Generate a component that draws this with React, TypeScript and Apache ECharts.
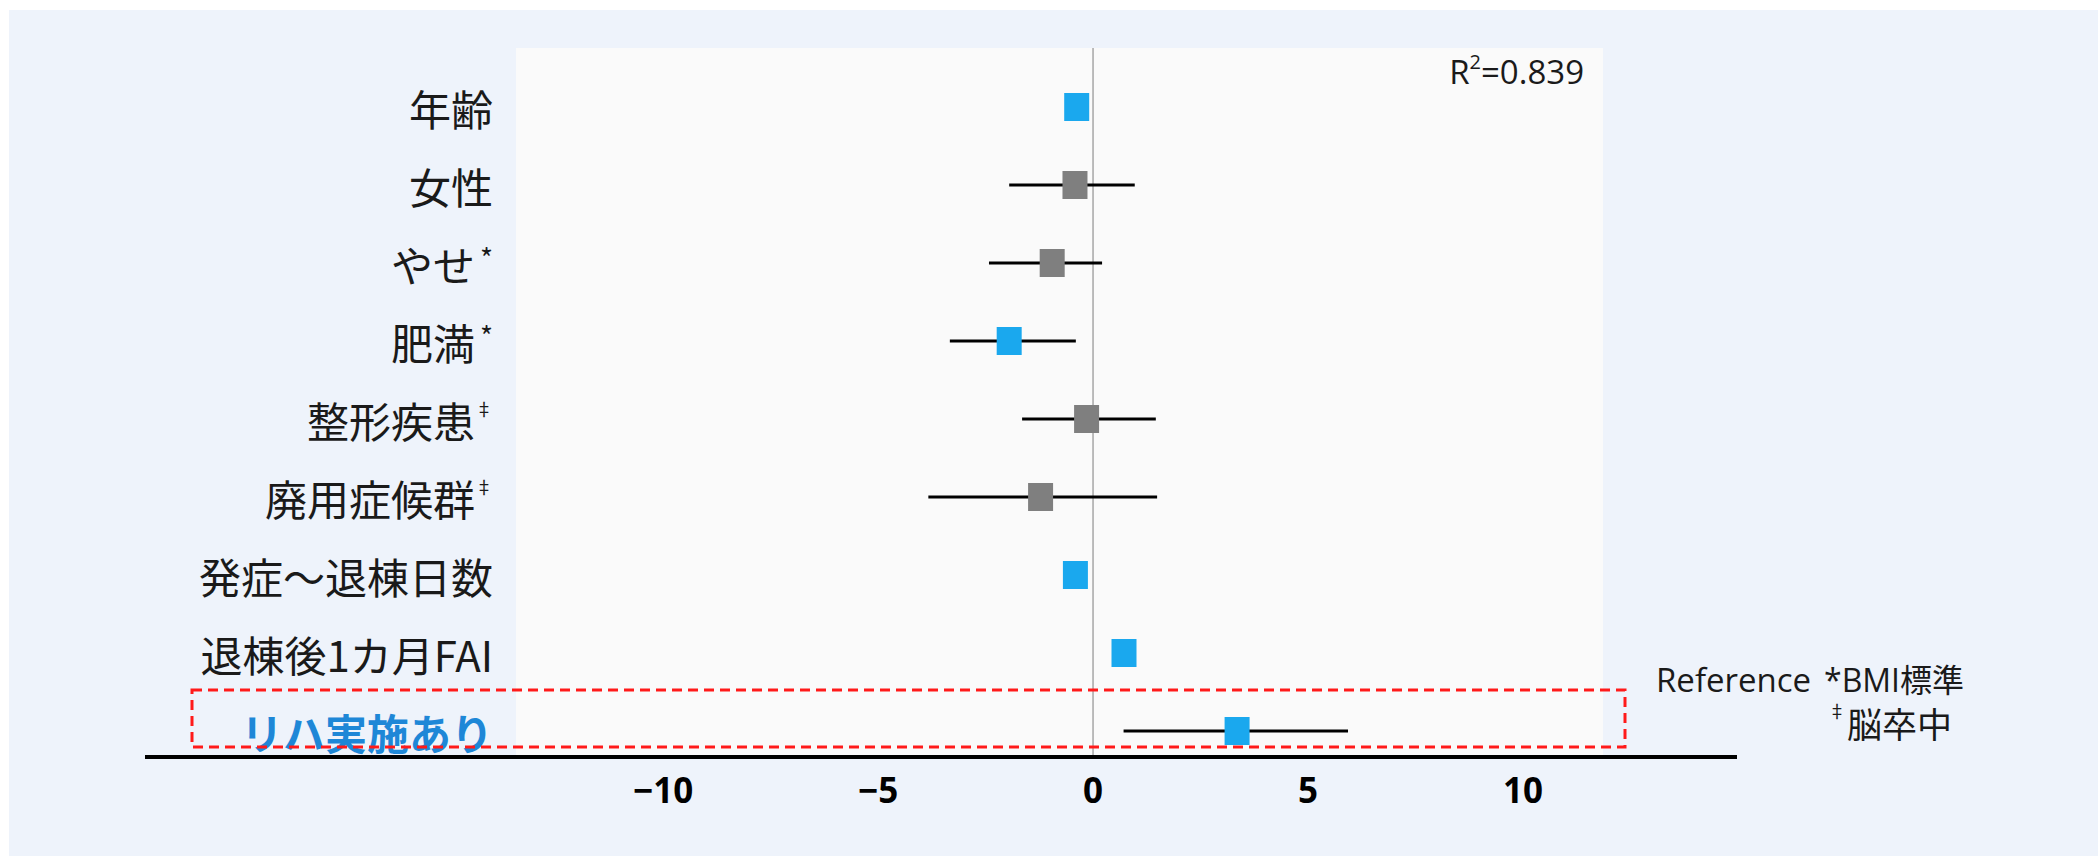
import React, { useEffect, useRef } from "react";
import * as echarts from "echarts";

// ---- data ----
const CATEGORIES = [
  "年齢",
  "女性",
  "やせ",
  "肥満",
  "整形疾患",
  "廃用症候群",
  "発症～退棟日数",
  "退棟後1カ月FAI",
  "リハ実施あり",
];
const NOTE_MARKS = ["", "", "*", "*", "‡", "‡", "", "", ""];
const ESTIMATES = [-0.38, -0.42, -0.95, -1.95, -0.15, -1.22, -0.41, 0.72, 3.35];
const CI_LOW = [null, -1.95, -2.42, -3.33, -1.65, -3.83, null, null, 0.71];
const CI_HIGH = [null, 0.97, 0.21, -0.40, 1.46, 1.49, null, null, 5.93];
const SIGNIFICANT = [true, false, false, true, false, false, true, true, true];
const HIGHLIGHT = [false, false, false, false, false, false, false, false, true];
const X_TICKS = [-10, -5, 0, 5, 10];
const REFERENCE_VALUE = [0];
const R2_TEXT = "0.839";
const NOTE_LINE1 = "*BMI標準";
const NOTE_LINE2 = "脳卒中";

const BLUE = "#1AA8EE";
const GRAY = "#7F7F7F";
const CJK = '"Noto Sans CJK JP", "Noto Sans", sans-serif';
const LAT = '"Open Sans", "Noto Sans CJK JP", sans-serif';

export default function App() {
  const ref = useRef<HTMLDivElement>(null);

  useEffect(() => {
    if (!ref.current) return;
    const chart = echarts.init(ref.current, null, { renderer: "svg" });

    const XMIN = -13.42;
    const XMAX = 11.86;

    const option: any = {
      animation: false,
      backgroundColor: "#EEF3FB",
      grid: [
        {
          left: 516,
          top: 48,
          width: 1087,
          height: 707,
          show: true,
          backgroundColor: "#FAFAFA",
          borderWidth: 0,
        },
        { left: 516, top: 68, width: 1087, height: 702, show: false },
      ],
      xAxis: [
        {
          type: "value",
          gridIndex: 0,
          min: XMIN,
          max: XMAX,
          axisLine: { show: false },
          axisTick: { show: false },
          splitLine: { show: false },
          axisLabel: {
            customValues: X_TICKS,
            margin: 17,
            fontSize: 35,
            fontWeight: "bold",
            fontFamily: '"Noto Sans", "Open Sans", sans-serif',
            color: "#000",
            formatter: (v: number) => (v < 0 ? "−" + Math.abs(v) : String(v)),
          },
        },
        {
          type: "value",
          gridIndex: 1,
          min: XMIN,
          max: XMAX,
          show: false,
          splitLine: { show: false },
        },
      ],
      yAxis: [
        { type: "value", gridIndex: 0, min: 0, max: 1, show: false, splitLine: { show: false } },
        {
          type: "category",
          gridIndex: 1,
          data: CATEGORIES,
          inverse: true,
          axisLine: { show: false },
          axisTick: { show: false },
          splitLine: { show: false },
          axisLabel: {
            margin: 23,
            formatter: (val: string, idx: number) => {
              const mark = NOTE_MARKS[idx];
              if (HIGHLIGHT[idx]) return `{h|${val}}`;
              if (mark === "*") return `{n|${val}}{s|${mark}}`;
              if (mark === "‡") return `{n|${val}}{d|${mark}}`;
              return `{n|${val}}`;
            },
            rich: {
              n: { fontSize: 42, fontFamily: CJK, color: "#1a1a1a", lineHeight: 50, verticalAlign: "middle" },
              h: {
                fontSize: 42,
                fontFamily: CJK,
                fontWeight: "bold",
                color: "#1E87D7",
                lineHeight: 50,
                verticalAlign: "middle",
              },
              s: {
                fontSize: 28,
                fontFamily: CJK,
                color: "#1a1a1a",
                lineHeight: 30,
                verticalAlign: "middle",
                padding: [0, 0, 13, 5],
              },
              d: {
                fontSize: 18,
                fontFamily: CJK,
                color: "#1a1a1a",
                lineHeight: 20,
                verticalAlign: "middle",
                padding: [0, 0, 22, 0],
              },
            },
          },
        },
      ],
      series: [
        {
          type: "custom",
          name: "reference",
          xAxisIndex: 0,
          yAxisIndex: 0,
          data: REFERENCE_VALUE.map((v) => [v, 0]),
          encode: { x: 0, y: 1 },
          z: 1,
          silent: true,
          renderItem: (params: any, api: any) => {
            const a = api.coord([api.value(0), 0]);
            const b = api.coord([api.value(0), 1]);
            return {
              type: "line",
              shape: { x1: a[0], y1: a[1], x2: b[0], y2: b[1] },
              style: { stroke: "#A6A6A6", lineWidth: 1.5 },
            };
          },
        },
        {
          type: "custom",
          name: "ci",
          xAxisIndex: 1,
          yAxisIndex: 1,
          z: 3,
          silent: true,
          data: CATEGORIES.map((_, i) => [CI_LOW[i], CI_HIGH[i], i]).filter(
            (d) => d[0] !== null
          ),
          encode: { x: [0, 1], y: 2 },
          renderItem: (params: any, api: any) => {
            const lo = api.coord([api.value(0), api.value(2)]);
            const hi = api.coord([api.value(1), api.value(2)]);
            return {
              type: "line",
              shape: { x1: lo[0], y1: lo[1], x2: hi[0], y2: hi[1] },
              style: { stroke: "#000", lineWidth: 3 },
            };
          },
        },
        {
          type: "scatter",
          name: "estimate",
          xAxisIndex: 1,
          yAxisIndex: 1,
          z: 4,
          symbol: "rect",
          symbolSize: [25, 28],
          data: ESTIMATES.map((v, i) => ({
            value: [v, i],
            itemStyle: { color: SIGNIFICANT[i] ? BLUE : GRAY, opacity: 1 },
          })),
        },
      ],
      graphic: [
        { type: "rect", z: 100, shape: { x: 0, y: 0, width: 2098, height: 10 }, style: { fill: "#FFFFFF" } },
        { type: "rect", z: 100, shape: { x: 0, y: 0, width: 9, height: 856 }, style: { fill: "#FFFFFF" } },
        {
          type: "line",
          z: 50,
          shape: { x1: 145, y1: 757, x2: 1737, y2: 757 },
          style: { stroke: "#000", lineWidth: 4 },
        },
        {
          type: "rect",
          z: 60,
          shape: { x: 192, y: 690, width: 1433, height: 57 },
          style: { fill: "none", stroke: "#FF1A1A", lineWidth: 3, lineDash: [10, 6] },
        },
        {
          type: "text",
          z: 60,
          x: 1584,
          y: 71,
          style: {
            text: `{a|R}{b|2}{a|=${R2_TEXT}}`,
            align: "right",
            verticalAlign: "middle",
            rich: {
              a: { fontSize: 33, fontFamily: LAT, fill: "#1a1a1a", lineHeight: 40 },
              b: { fontSize: 20, fontFamily: LAT, fill: "#1a1a1a", lineHeight: 34, verticalAlign: "top" },
            },
          },
        },
        {
          type: "text",
          z: 60,
          x: 1656,
          y: 679,
          style: {
            text: "Reference",
            fontSize: 33,
            fontFamily: LAT,
            fill: "#1a1a1a",
            align: "left",
            verticalAlign: "middle",
          },
        },
        {
          type: "text",
          z: 60,
          x: 1824,
          y: 679,
          style: {
            text: NOTE_LINE1,
            fontSize: 32,
            fontFamily: LAT,
            fill: "#1a1a1a",
            align: "left",
            verticalAlign: "middle",
          },
        },
        {
          type: "text",
          z: 60,
          x: 1828,
          y: 722,
          style: {
            text: `{d|‡}{a|${NOTE_LINE2}}`,
            align: "left",
            verticalAlign: "middle",
            rich: {
              a: { fontSize: 35, fontFamily: CJK, fill: "#1a1a1a", lineHeight: 42 },
              d: { fontSize: 18, fontFamily: CJK, fill: "#1a1a1a", lineHeight: 34, verticalAlign: "top", padding: [0, 1, 0, 0] },
            },
          },
        },
      ],
    };

    chart.setOption(option);
    return () => chart.dispose();
  }, []);

  return (
    <div
      ref={ref}
      style={{ position: "fixed", left: 0, top: 0, width: 2098, height: 856 }}
    />
  );
}
